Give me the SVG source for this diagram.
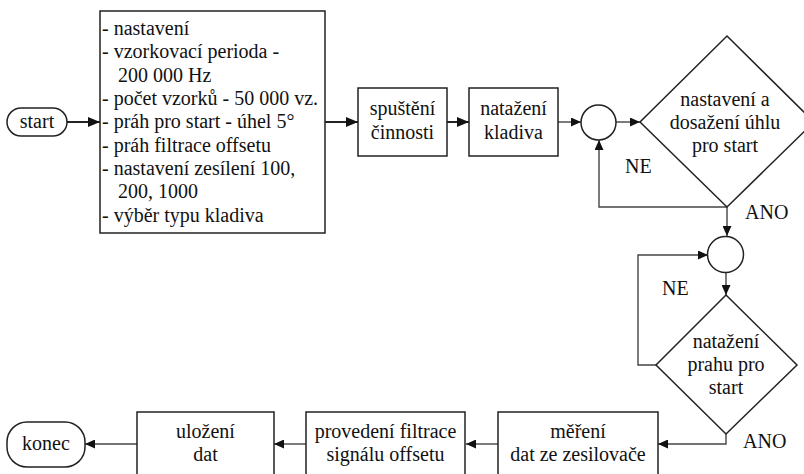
<svg xmlns="http://www.w3.org/2000/svg" width="804" height="474" viewBox="0 0 804 474">
<style>
  .shape { fill: #fff; stroke: #222; stroke-width: 1.5; }
  .t { font-family: "Liberation Serif", "Times New Roman", serif; font-size: 20px; fill: #111; }
  .c { text-anchor: middle; }
  .line { fill: none; stroke: #222; stroke-width: 2; }
  .thin { fill: none; stroke: #444; stroke-width: 1.4; }
</style>
<defs>
  <marker id="big" markerUnits="userSpaceOnUse" markerWidth="12" markerHeight="10" refX="12" refY="5" orient="auto">
    <path d="M0,0 L12,5 L0,10 Z" fill="#111"/>
  </marker>
  <marker id="small" markerUnits="userSpaceOnUse" markerWidth="10" markerHeight="9" refX="10" refY="4.5" orient="auto">
    <path d="M0,0 L10,4.5 L0,9 Z" fill="#111"/>
  </marker>
</defs>
<rect width="804" height="474" fill="#fff"/>

<g id="connectors">
  <line class="line" x1="67" y1="122" x2="100" y2="122" marker-end="url(#big)"/>
  <line class="line" x1="325" y1="122" x2="358" y2="122" marker-end="url(#big)"/>
  <line class="line" x1="447" y1="122" x2="469" y2="122" marker-end="url(#big)"/>
  <line class="thin" x1="558" y1="122" x2="581" y2="122" marker-end="url(#small)"/>
  <line class="thin" x1="616" y1="122" x2="640" y2="122" marker-end="url(#small)"/>
  <polyline class="thin" points="727,207 599,207 599,140" marker-end="url(#small)"/>
  <line class="thin" x1="727" y1="207" x2="727" y2="236" marker-end="url(#small)"/>
  <line class="thin" x1="726" y1="272" x2="726" y2="295" marker-end="url(#small)"/>
  <polyline class="thin" points="656,365 638,365 638,255 708,255" marker-end="url(#small)"/>
  <polyline class="thin" points="726,434 726,444 658,444" marker-end="url(#small)"/>
  <line class="thin" x1="498" y1="444" x2="466" y2="444" marker-end="url(#small)"/>
  <line class="thin" x1="306" y1="444" x2="274" y2="444" marker-end="url(#small)"/>
  <line class="thin" x1="137" y1="444" x2="85" y2="444" marker-end="url(#small)"/>
</g>

<g id="start">
  <rect class="shape" x="7" y="108" width="60" height="28" rx="14"/>
  <text class="t c" x="37" y="128">start</text>
</g>

<g id="settings">
  <rect class="shape" x="100" y="11" width="225" height="222"/>
  <text class="t" x="102" y="35">- nastavení</text>
  <text class="t" x="102" y="58">- vzorkovací perioda -</text>
  <text class="t" x="118" y="81.5">200 000 Hz</text>
  <text class="t" x="102" y="105">- počet vzorků - 50 000 vz.</text>
  <text class="t" x="102" y="128">- práh pro start - úhel 5°</text>
  <text class="t" x="102" y="151.5">- práh filtrace offsetu</text>
  <text class="t" x="102" y="175">- nastavení zesílení 100,</text>
  <text class="t" x="118" y="198">200, 1000</text>
  <text class="t" x="102" y="221.5">- výběr typu kladiva</text>
</g>

<g id="spusteni">
  <rect class="shape" x="358" y="88" width="89" height="68"/>
  <text class="t c" x="402.5" y="115">spuštění</text>
  <text class="t c" x="402.5" y="139">činnosti</text>
</g>

<g id="natazeni">
  <rect class="shape" x="469" y="88" width="89" height="68"/>
  <text class="t c" x="513.5" y="115">natažení</text>
  <text class="t c" x="513.5" y="139">kladiva</text>
</g>

<g id="join1">
  <circle class="shape" cx="598.5" cy="122.5" r="17.5"/>
</g>

<g id="decision1">
  <polygon class="shape" points="727,36 814,122 727,207 640,122"/>
  <text class="t c" x="725" y="106">nastavení a</text>
  <text class="t c" x="725" y="129">dosažení úhlu</text>
  <text class="t c" x="725" y="152">pro start</text>
  <text class="t" x="625" y="173">NE</text>
  <text class="t" x="745" y="219">ANO</text>
</g>

<g id="join2">
  <circle class="shape" cx="725.5" cy="254.5" r="18"/>
</g>

<g id="decision2">
  <polygon class="shape" points="726,295 797,365 726,434 656,365"/>
  <text class="t c" x="726" y="348">natažení</text>
  <text class="t c" x="726" y="371">prahu pro</text>
  <text class="t c" x="726" y="394">start</text>
  <text class="t" x="662" y="295">NE</text>
  <text class="t" x="743" y="448">ANO</text>
</g>

<g id="mereni">
  <rect class="shape" x="498" y="412" width="160" height="70"/>
  <text class="t c" x="578" y="438">měření</text>
  <text class="t c" x="578" y="461">dat ze zesilovače</text>
</g>

<g id="filtrace">
  <rect class="shape" x="306" y="412" width="159" height="70"/>
  <text class="t c" x="385.5" y="438">provedení filtrace</text>
  <text class="t c" x="385.5" y="461">signálu offsetu</text>
</g>

<g id="ulozeni">
  <rect class="shape" x="137" y="412" width="137" height="70"/>
  <text class="t c" x="205.5" y="438">uložení</text>
  <text class="t c" x="205.5" y="461">dat</text>
</g>

<g id="konec">
  <rect class="shape" x="7" y="422" width="78" height="45" rx="20"/>
  <text class="t c" x="46" y="450">konec</text>
</g>
</svg>
